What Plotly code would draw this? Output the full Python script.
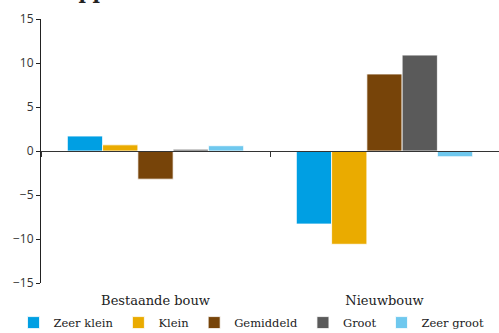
import plotly.graph_objects as go

categories = ["Bestaande bouw", "Nieuwbouw"]
series_names = ["Zeer klein", "Klein", "Gemiddeld", "Groot", "Zeer groot"]
zeer_klein = [1.7, -8.3]
klein = [0.7, -10.6]
gemiddeld = [-3.2, 8.75]
groot = [0.2, 10.9]
zeer_groot = [0.6, -0.65]
colors = ["#009FE3", "#EAAB00", "#774409", "#5A5A5A", "#6FC8EE"]
y_ticks = [-15, -10, -5, 0, 5, 10, 15]

values = [zeer_klein, klein, gemiddeld, groot, zeer_groot]

fig = go.Figure()
for name, vals, col in zip(series_names, values, colors):
    fig.add_trace(go.Bar(x=categories, y=vals, name=name,
                         marker=dict(color=col, line=dict(color="white", width=0.8))))

# invisible trace for the zero-line axis with boundary ticks
fig.add_trace(go.Scatter(x=categories, y=[0, 0], xaxis="x2", mode="markers",
                         marker=dict(opacity=0), showlegend=False, hoverinfo="skip"))

serif = "DejaVu Serif"
fig.update_layout(
    width=499, height=333,
    margin=dict(l=41, r=0, t=19, b=50, autoexpand=False),
    paper_bgcolor="white", plot_bgcolor="white",
    barmode="group", bargap=0.23, bargroupgap=0,
    showlegend=True,
    legend=dict(orientation="h", xref="paper", x=-0.06, xanchor="left",
                yref="paper", y=-0.095, yanchor="top", bgcolor="rgba(0,0,0,0)",
                font=dict(family=serif, size=11.5, color="#222"),
                itemwidth=30, tracegroupgap=0),
    xaxis=dict(type="category", showline=False, ticks="", showgrid=False,
               tickfont=dict(family=serif, size=13, color="#222"), ticklabelstandoff=8),
    xaxis2=dict(type="category", overlaying="x", matches="x", anchor="free", position=0.5,
                showline=True, linecolor="#333", linewidth=1, ticks="outside",
                tickson="boundaries", ticklen=5, tickcolor="#333",
                showticklabels=False, showgrid=False, side="bottom"),
    yaxis=dict(range=[-15, 15], tickvals=y_ticks, showline=True, linecolor="#222",
               linewidth=1, ticks="outside", ticklen=4, tickcolor="#222",
               showgrid=False, zeroline=False, automargin=False,
               tickfont=dict(family="Open Sans", size=12, color="#333")),
    font=dict(family=serif),
)
fig.add_annotation(text="<b>Naar woonoppervlakte</b>", xref="paper", yref="paper",
                   x=0.347, y=1.05, xanchor="right", yanchor="bottom", showarrow=False,
                   font=dict(family=serif, size=20, color="#222"))
fig.write_html("out.html", config={"displayModeBar": False},
               post_script="document.body.style.margin='0';")
